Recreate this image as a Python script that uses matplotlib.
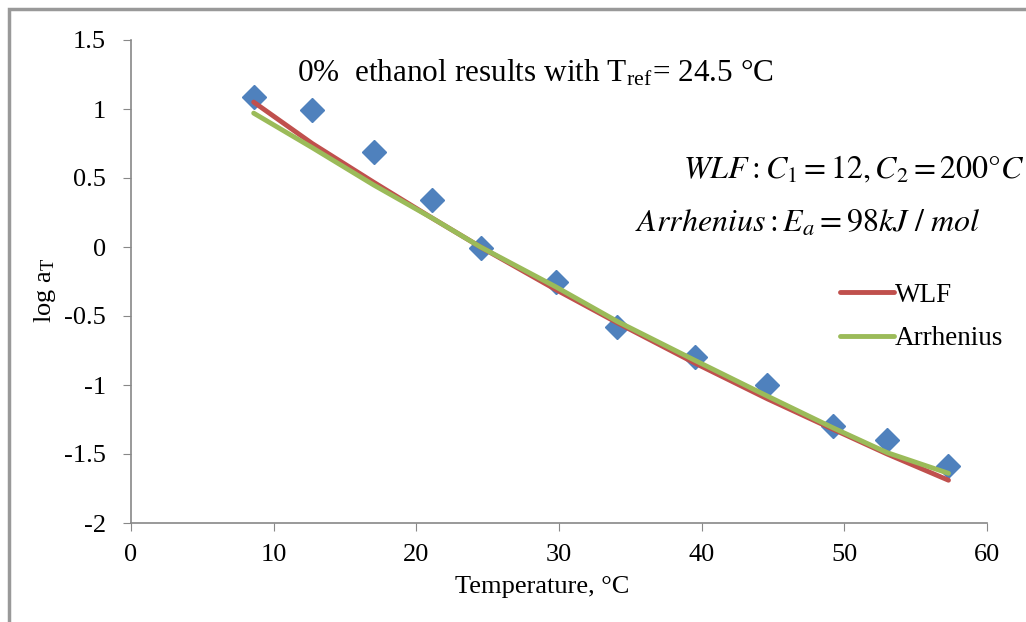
import matplotlib
matplotlib.use("Agg")
import matplotlib.pyplot as plt
from matplotlib.patches import Rectangle

plt.rcParams['font.family'] = ['Liberation Serif', 'DejaVu Serif']
plt.rcParams['mathtext.fontset'] = 'stix'

temp = [8.6, 12.7, 17.0, 21.1, 24.5, 29.8, 34.1, 39.5, 44.6, 49.2, 53.0, 57.3]
log_aT = [1.09, 0.99, 0.69, 0.34, -0.01, -0.25, -0.58, -0.80, -1.00, -1.30, -1.40, -1.59]

# fitted curves at the same temperatures
wlf = [1.05, 0.75, 0.47, 0.21, 0.0, -0.31, -0.55, -0.84, -1.10, -1.32, -1.50, -1.69]
arrhenius = [0.97, 0.72, 0.45, 0.21, 0.0, -0.29, -0.54, -0.82, -1.08, -1.31, -1.49, -1.64]

xticks = [0, 10, 20, 30, 40, 50, 60]
yticks = [-2, -1.5, -1, -0.5, 0, 0.5, 1, 1.5]
ytick_labels = ['-2', '-1.5', '-1', '-0.5', '0', '0.5', '1', '1.5']

W, H = 1026, 622
fig = plt.figure(figsize=(W / 100, H / 100), dpi=100)
ax = fig.add_axes([131 / W, 1 - 523 / H, (987 - 131) / W, (523 - 40) / H])

ax.plot(temp, log_aT, linestyle='none', marker='D', ms=12.5, color='#4F81BD', zorder=2)
ax.plot(temp, wlf, color='#C0504D', lw=3.5, label='WLF', zorder=3, solid_capstyle='round')
ax.plot(temp, arrhenius, color='#9BBB59', lw=3.5, label='Arrhenius', zorder=4, solid_capstyle='round')

ax.set_xlim(0, 60)
ax.set_ylim(-2, 1.5)
ax.set_xticks(xticks)
ax.set_yticks(yticks)
ax.set_yticklabels(ytick_labels)
for s in ['top', 'right']:
    ax.spines[s].set_visible(False)
for s in ['left', 'bottom']:
    ax.spines[s].set_color('#888888')
    ax.spines[s].set_linewidth(1.2)
ax.tick_params(axis='both', direction='out', length=6, color='#888888', labelsize=19)
ax.tick_params(axis='y', pad=12)
ax.tick_params(axis='x', pad=9)

leg = ax.legend(loc='center left', bbox_to_anchor=(826 / W, 1 - 317 / H), bbox_transform=fig.transFigure,
                frameon=False, fontsize=19.5, handlelength=2.0, handletextpad=0.05,
                borderpad=0, labelspacing=0.7)

fig.text(297 / W, 1 - 82 / H, r'0%  ethanol results with T$_\mathregular{ref}$= 24.5 °C',
         fontsize=22.5, va='baseline', ha='left')
fig.text(683 / W, 1 - 178 / H, r'$WLF: C_1 = 12, C_2 = 200\degree C$',
         fontsize=23, va='baseline', ha='left')
fig.text(635 / W, 1 - 232 / H, r'$Arrhenius: E_a = 98kJ\ /\ mol$',
         fontsize=23, va='baseline', ha='left')

fig.text(45 / W, 1 - 290 / H, r'log a$_\mathregular{T}$', fontsize=19, rotation=90, va='center', ha='center')
fig.text(542 / W, 1 - 593 / H, 'Temperature, °C', fontsize=19, va='baseline', ha='center')

# outer chart frame
fig.add_artist(Rectangle((9 / W, -0.1), 1.2, 1.1 - 9.5 / H, transform=fig.transFigure,
                         fill=False, edgecolor='#999999', lw=2.5))

fig.savefig('out.png', dpi=100)
